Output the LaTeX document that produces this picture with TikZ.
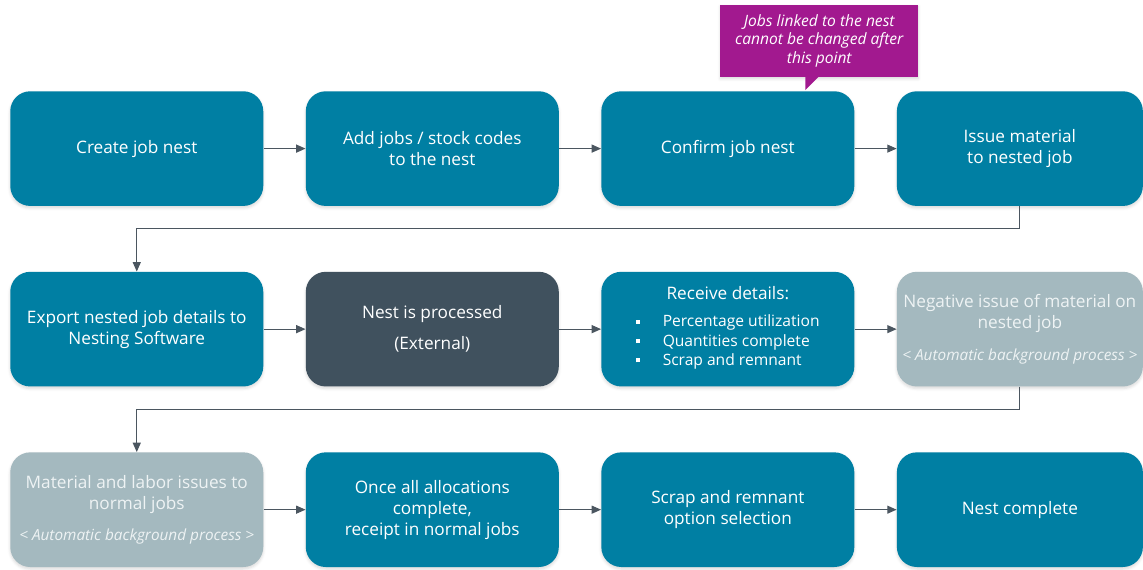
\documentclass[tikz,border=0pt]{standalone}
\usepackage{fontspec}
\setmainfont{Open Sans}
\usetikzlibrary{positioning, shadows.blur, arrows.meta}
\definecolor{NestTeal}{RGB}{0,127,163}
\definecolor{NestDark}{RGB}{64,81,94}
\definecolor{NestGrey}{RGB}{164,185,191}
\definecolor{NestPale}{RGB}{238,243,244}
\definecolor{NestPurple}{RGB}{162,25,143}
\definecolor{NestArrow}{RGB}{75,86,96}

\begin{document}
\begin{tikzpicture}[
        node distance = 49pt and 31.5pt,
        Task/.style = {rectangle, rounded corners = 15pt, fill = NestTeal, text = white, align = center, minimum width = 189.75pt, minimum height = 86pt, font = \fontsize{12.9}{15.75}\selectfont, blur shadow = {shadow xshift = 0pt, shadow yshift = -1.5pt, shadow opacity = 15, shadow blur steps = 4}},
        % 
        External/.style = {Task, fill = NestDark},
        % 
        Auto/.style = {Task, fill = NestGrey, text = NestPale},
        % 
        Remark/.style = {rectangle, fill = NestPurple, text = white, align = center, minimum width = 148.5pt, minimum height = 54pt, font = \itshape\fontsize{11.7}{13.9}\selectfont, blur shadow = {shadow xshift = 0pt, shadow yshift = -1.5pt, shadow opacity = 15, shadow blur steps = 4}},
        % 
        Flow/.style = {-{Triangle[length = 7pt, width = 6pt]}, draw = NestArrow, line width = 0.8pt},
    ]
        \useasboundingbox (0,0) rectangle (857.25pt,-426.75pt);

        % First row
        \node[Task, anchor = north west] (CreateNest) at (7.5pt,-68.25pt) {Create job nest};
        \node[Task] (AddJobs) [right = of CreateNest] {Add jobs / stock codes\\to the nest};
        \node[Task] (ConfirmNest) [right = of AddJobs] {Confirm job nest};
        \node[Task, minimum width = 184.5pt] (IssueMat) [right = of ConfirmNest] {Issue material\\to nested job};

        % Second row
        \node[Task] (ExportDet) [below = of CreateNest] {Export nested job details to\\Nesting Software};
        \node[External] (NestProc) [right = of ExportDet] {Nest is processed\\[7.5pt](External)};
        \node[Task] (ReceiveDet) [right = of NestProc] {Receive details:\\[9pt]
            {\fontsize{11.7}{14.6}\selectfont
            \begin{tabular}{@{}l@{\hspace{17pt}}l@{}}
                \rule[2.5pt]{3pt}{3pt} & Percentage utilization\\
                \rule[2.5pt]{3pt}{3pt} & Quantities complete\\
                \rule[2.5pt]{3pt}{3pt} & Scrap and remnant
            \end{tabular}}};
        \node[Auto, minimum width = 184.5pt] (NegIssue) [right = of ReceiveDet] {Negative issue of material on\\nested job\\[8pt]{\itshape\fontsize{11.5}{14}\selectfont < Automatic background process >}};

        % Third row
        \node[Auto] (MatLabor) [below = of ExportDet] {Material and labor issues to\\normal jobs\\[8pt]{\itshape\fontsize{11.5}{14}\selectfont < Automatic background process >}};
        \node[Task] (Receipt) [right = of MatLabor] {Once all allocations\\complete,\\receipt in normal jobs};
        \node[Task] (ScrapOpt) [right = of Receipt] {Scrap and remnant\\option selection};
        \node[Task, minimum width = 184.5pt] (NestDone) [right = of ScrapOpt] {Nest complete};

        % Note
        \node[Remark] (Note) [above = 10.5pt of ConfirmNest, xshift = 68.6pt] {Jobs linked to the nest\\cannot be changed after\\this point};
        \fill[NestPurple] ([xshift = -10.5pt]Note.south) -- ++(0,-9.75pt) -- ([xshift = -0.75pt]Note.south) -- cycle;

        % Arrows first row
        \draw[Flow] (CreateNest) -- (AddJobs);
        \draw[Flow] (AddJobs) -- (ConfirmNest);
        \draw[Flow] (ConfirmNest) -- (IssueMat);
        \draw[Flow] (IssueMat.south) -- ++(0,-16.5pt) -| (ExportDet.north);

        % Arrows second row
        \draw[Flow] (ExportDet) -- (NestProc);
        \draw[Flow] (NestProc) -- (ReceiveDet);
        \draw[Flow] (ReceiveDet) -- (NegIssue);
        \draw[Flow] (NegIssue.south) -- ++(0,-17pt) -| (MatLabor.north);

        % Arrows third row
        \draw[Flow] (MatLabor) -- (Receipt);
        \draw[Flow] (Receipt) -- (ScrapOpt);
        \draw[Flow] (ScrapOpt) -- (NestDone);

    \end{tikzpicture}
\end{document}
